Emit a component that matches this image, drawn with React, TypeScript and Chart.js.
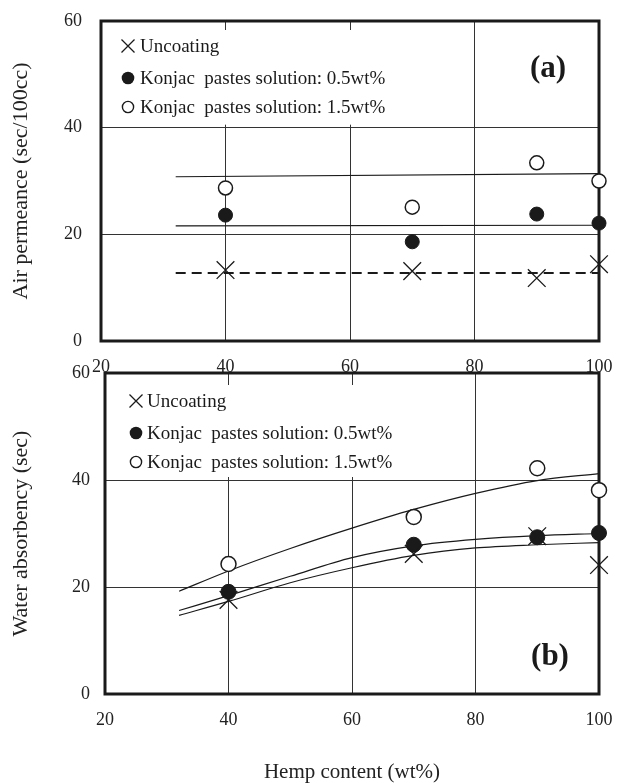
import React, { useEffect, useRef } from "react";
import { Chart, registerables } from "chart.js";
Chart.register(...registerables);

// ---------- data ----------
const hempContent = [40, 70, 90, 100];
const xTicks = [20, 40, 60, 80, 100];
const yTicks = [0, 20, 40, 60];
const seriesLabels = [
  "Uncoating",
  "Konjac  pastes solution: 0.5wt%",
  "Konjac  pastes solution: 1.5wt%",
];

// (a) Air permeance (sec/100cc)
const airUncoating = [13.3, 13.1, 11.8, 14.4];
const air05 = [23.6, 18.6, 23.8, 22.1];
const air15 = [28.7, 25.1, 33.4, 30.0];
const airFitX = [32, 100];
const airFitUncoating = [12.75, 12.75];
const airFit05 = [21.6, 21.7];
const airFit15 = [30.8, 31.4];

// (b) Water absorbency (sec)
const waterUncoating = [17.6, 26.2, 29.5, 24.1];
const water05 = [19.1, 27.9, 29.3, 30.1];
const water15 = [24.3, 33.1, 42.2, 38.1];
const waterFitX = [32, 40, 50, 60, 70, 80, 90, 100];
const waterFitUncoating = [14.7, 17.3, 20.8, 23.6, 25.9, 27.3, 27.9, 28.3];
const waterFit05 = [15.6, 18.4, 22.0, 25.5, 27.7, 28.9, 29.6, 30.0];
const waterFit15 = [19.2, 23.0, 27.2, 31.0, 34.5, 37.5, 39.9, 41.2];

const SERIF = "'Liberation Serif', 'Times New Roman', serif";
const INK = "#1a1a1a";

const pts = (xs: number[], ys: number[]) => xs.map((x, i) => ({ x, y: ys[i] }));

const zeroPad = (s: any) => {
  s.paddingTop = 0;
  s.paddingBottom = 0;
  s.paddingLeft = 0;
  s.paddingRight = 0;
};

function panelPlugin(cfg: any) {
  return {
    id: "panelDeco" + cfg.letter,
    beforeDatasetsDraw(chart: any) {
      const { ctx, chartArea } = chart;
      const { left, right, top, bottom } = chartArea;
      const yS = chart.scales.y;
      ctx.save();
      // legend background box
      ctx.fillStyle = "#ffffff";
      const boxTop = top + cfg.boxTopOff;
      const boxBottom = yS.getPixelForValue(40) - 3;
      ctx.fillRect(left + 2, boxTop, 300, boxBottom - boxTop);
      // frame
      ctx.lineWidth = 3;
      ctx.strokeStyle = INK;
      ctx.strokeRect(left, top, right - left, bottom - top);
      // legend
      ctx.font = `19px ${SERIF}`;
      ctx.fillStyle = INK;
      ctx.textBaseline = "middle";
      ctx.textAlign = "left";
      const mx = left + cfg.markerOff;
      const tx = left + cfg.textOff;
      cfg.rows.forEach((off: number, i: number) => {
        const cy = top + off;
        ctx.lineWidth = 1.3;
        ctx.strokeStyle = INK;
        if (i === 0) {
          const h = 6.5;
          ctx.beginPath();
          ctx.moveTo(mx - h, cy - h);
          ctx.lineTo(mx + h, cy + h);
          ctx.moveTo(mx + h, cy - h);
          ctx.lineTo(mx - h, cy + h);
          ctx.stroke();
        } else if (i === 1) {
          ctx.beginPath();
          ctx.arc(mx, cy, 6.3, 0, Math.PI * 2);
          ctx.fillStyle = INK;
          ctx.fill();
        } else {
          ctx.beginPath();
          ctx.arc(mx, cy, 5.6, 0, Math.PI * 2);
          ctx.lineWidth = 1.4;
          ctx.stroke();
        }
        ctx.fillStyle = INK;
        ctx.fillText(seriesLabels[i], tx, cy + 1);
      });
      // panel letter
      ctx.font = `bold 31px ${SERIF}`;
      ctx.textAlign = "center";
      ctx.fillText(cfg.letter, right - cfg.letterDx, cfg.letterAtTop ? top + cfg.letterDy : bottom - cfg.letterDy);
      ctx.restore();
    },
  };
}

function buildConfig(p: any) {
  const markerR = p.markerR;
  const datasets: any[] = [
    {
      label: seriesLabels[0],
      data: pts(hempContent, p.unc),
      pointStyle: "crossRot",
      pointRadius: 12.5,
      pointBorderWidth: 1.3,
      borderColor: INK,
      backgroundColor: INK,
      showLine: false,
      clip: false,
      order: 0,
    },
    {
      label: seriesLabels[1],
      data: pts(hempContent, p.c05),
      pointStyle: "circle",
      pointRadius: markerR,
      pointBorderWidth: 1,
      borderColor: INK,
      backgroundColor: INK,
      showLine: false,
      clip: false,
      order: 0,
    },
    {
      label: seriesLabels[2],
      data: pts(hempContent, p.c15),
      pointStyle: "circle",
      pointRadius: markerR,
      pointBorderWidth: 1.5,
      borderColor: INK,
      backgroundColor: "#ffffff",
      showLine: false,
      clip: false,
      order: 0,
    },
    {
      label: "fit uncoating",
      data: pts(p.fitX, p.fitUnc),
      showLine: true,
      pointRadius: 0,
      borderColor: INK,
      borderWidth: p.dashedUnc ? 2.2 : 1.2,
      borderDash: p.dashedUnc ? [10, 6] : [],
      cubicInterpolationMode: "monotone",
      clip: false,
      order: 1,
    },
    {
      label: "fit 0.5",
      data: pts(p.fitX, p.fit05),
      showLine: true,
      pointRadius: 0,
      borderColor: INK,
      borderWidth: 1.2,
      cubicInterpolationMode: "monotone",
      clip: false,
      order: 1,
    },
    {
      label: "fit 1.5",
      data: pts(p.fitX, p.fit15),
      showLine: true,
      pointRadius: 0,
      borderColor: INK,
      borderWidth: 1.2,
      cubicInterpolationMode: "monotone",
      clip: false,
      order: 1,
    },
  ];
  return {
    type: "scatter",
    data: { datasets },
    options: {
      animation: false,
      responsive: false,
      devicePixelRatio: 1,
      events: [],
      layout: { autoPadding: false, padding: { left: 0, right: 18, top: p.padTop, bottom: 0 } },
      plugins: { legend: { display: false }, tooltip: { enabled: false }, title: { display: false } },
      scales: {
        x: {
          type: "linear",
          min: 20,
          max: 100,
          afterBuildTicks: (s: any) => {
            s.ticks = xTicks.map((v) => ({ value: v }));
          },
          afterFit: (s: any) => {
            s.height = p.xHeight;
            zeroPad(s);
          },
          grid: { color: "#333", lineWidth: 1, drawTicks: false },
          border: { display: false },
          ticks: { font: { family: SERIF, size: 18 }, color: "#222", padding: 15, maxRotation: 0 },
          title: p.xTitle
            ? {
                display: true,
                text: p.xTitle,
                font: { family: SERIF, size: 21, lineHeight: 1 },
                color: "#222",
                padding: 0,
              }
            : { display: false },
        },
        y: {
          type: "linear",
          min: 0,
          max: 60,
          afterBuildTicks: (s: any) => {
            s.ticks = yTicks.map((v) => ({ value: v }));
          },
          afterFit: (s: any) => {
            s.width = p.yWidth;
            zeroPad(s);
          },
          grid: { color: "#333", lineWidth: 1, drawTicks: false },
          border: { display: false },
          ticks: { font: { family: SERIF, size: 18 }, color: "#222", padding: p.yTickPad },
          title: {
            display: true,
            text: p.yTitle,
            font: { family: SERIF, size: 22 },
            color: "#222",
            padding: { top: 8, bottom: 0 },
          },
        },
      },
    },
    plugins: [panelPlugin(p.deco)],
  };
}

function Panel({ params, top, height }: any) {
  const ref = useRef<HTMLCanvasElement>(null);
  useEffect(() => {
    const chart = new Chart(ref.current as HTMLCanvasElement, buildConfig(params) as any);
    return () => chart.destroy();
  }, []);
  return (
    <canvas
      ref={ref}
      width={617}
      height={height}
      style={{ position: "absolute", left: 0, top, width: 617, height, display: "block" }}
    />
  );
}

const topParams = {
  unc: airUncoating,
  c05: air05,
  c15: air15,
  fitX: airFitX,
  fitUnc: airFitUncoating,
  fit05: airFit05,
  fit15: airFit15,
  dashedUnc: true,
  markerR: 7,
  padTop: 21,
  xHeight: 39,
  yWidth: 101,
  yTickPad: 19,
  yTitle: "Air permeance (sec/100cc)",
  xTitle: null,
  deco: {
    letter: "(a)",
    letterAtTop: true,
    letterDx: 51,
    letterDy: 48,
    boxTopOff: 9,
    markerOff: 27,
    textOff: 39,
    rows: [25, 57, 86],
  },
};

const bottomParams = {
  unc: waterUncoating,
  c05: water05,
  c15: water15,
  fitX: waterFitX,
  fitUnc: waterFitUncoating,
  fit05: waterFit05,
  fit15: waterFit15,
  dashedUnc: false,
  markerR: 7.5,
  padTop: 28,
  xHeight: 89,
  yWidth: 105,
  yTickPad: 15,
  yTitle: "Water absorbency (sec)",
  xTitle: "Hemp content (wt%)",
  deco: {
    letter: "(b)",
    letterAtTop: false,
    letterDx: 49,
    letterDy: 37,
    boxTopOff: 12,
    markerOff: 31,
    textOff: 42,
    rows: [28, 60, 89],
  },
};

export default function App() {
  return (
    <div style={{ position: "absolute", left: 0, top: 0, width: 617, height: 783, background: "#fff" }}>
      <Panel params={topParams} top={0} height={380} />
      <Panel params={bottomParams} top={345} height={438} />
    </div>
  );
}
